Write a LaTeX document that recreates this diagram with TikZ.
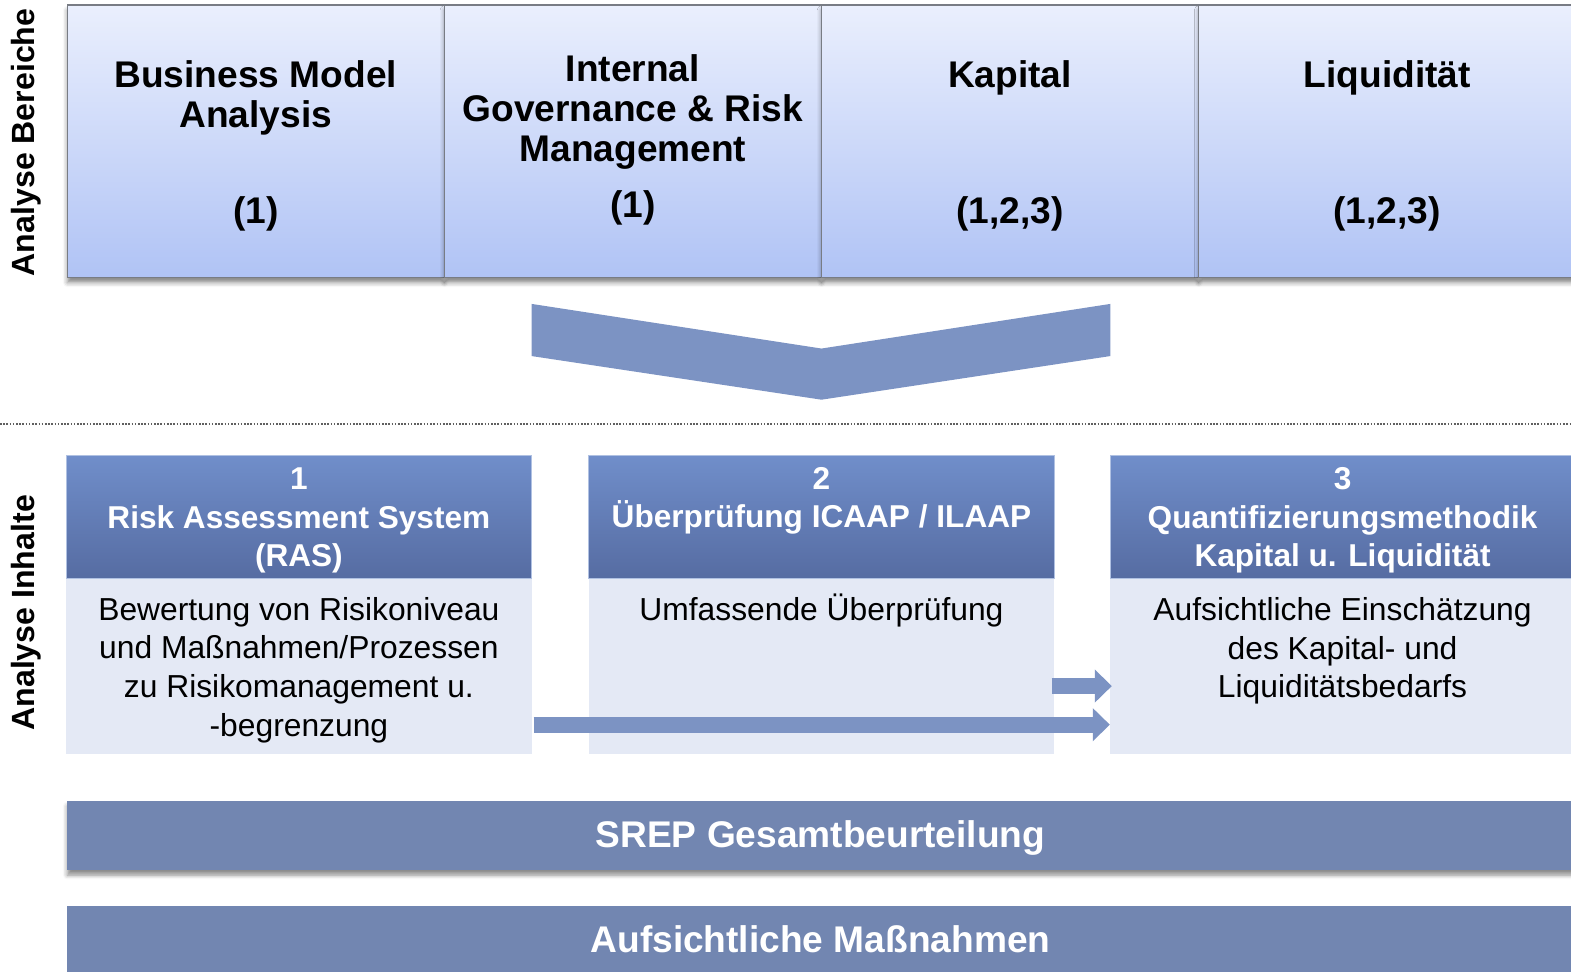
\documentclass[tikz,border=0pt]{standalone}
\usepackage{fontspec}
\setmainfont{Liberation Sans}
\usetikzlibrary{arrows.meta,shadows,shadows.blur}
\definecolor{topA}{RGB}{234,239,253}
\definecolor{topB}{RGB}{176,195,245}
\definecolor{hdA}{RGB}{112,142,202}
\definecolor{hdB}{RGB}{86,108,162}
\definecolor{bodyC}{RGB}{228,233,245}
\definecolor{arrC}{RGB}{124,147,195}
\definecolor{barC}{RGB}{114,134,177}
\definecolor{frameC}{RGB}{120,124,132}
\begin{document}
\begin{tikzpicture}[x=0.5pt,y=-0.5pt,
  areabox/.style={draw=frameC, line width=0.6pt, top color=topA, bottom color=topB,
    minimum width=188pt, minimum height=136pt, inner sep=0pt, outer sep=0pt,
    blur shadow={shadow xshift=0pt, shadow yshift=-2.5pt, shadow opacity=45}},
  areatitle/.style={font=\bfseries\fontsize{18.5}{20}\selectfont, align=center, inner sep=0pt},
  hdbox/.style={top color=hdA, bottom color=hdB, draw=hdA!55!white, line width=0.5pt,
    minimum width=232pt, minimum height=61pt, inner sep=0pt, outer sep=0pt},
  bodybox/.style={fill=bodyC, minimum width=232pt, minimum height=87pt, inner sep=0pt, outer sep=0pt},
  hdtext/.style={text=white, font=\bfseries\fontsize{15.75}{19.25}\selectfont, align=center, inner sep=0pt},
  bodytext/.style={font=\fontsize{15.85}{19.25}\selectfont, align=center, inner sep=0pt},
  sidelabel/.style={font=\bfseries\fontsize{16}{19}\selectfont, rotate=90, anchor=base, inner sep=0pt},
  barbox/.style={fill=barC, minimum width=760pt, inner sep=0pt, outer sep=0pt},
  bartext/.style={text=white, font=\bfseries\fontsize{18.5}{20}\selectfont, anchor=base, inner sep=0pt},
  blockarrow/.style={draw=arrC, line width=8pt, -{Triangle[length=8.5pt,width=16pt]}}
]
\useasboundingbox (0,0) rectangle (1566.3,968.1);
\begin{scope}
\clip (0,0) rectangle (1566.3,968.1);

% side labels
\node[sidelabel] (lblA) at (34,142) {Analyse Bereiche};
\node[sidelabel] (lblB) at (34,611) {Analyse Inhalte};

% top area boxes
\node[areabox] (bm)  at (255,141) {};
\node[areabox] (ig)  at (631,141) {};
\node[areabox] (kap) at (1007,141) {};
\node[areabox, minimum width=192pt] (liq) at (1387,141) {};

\node[areatitle] (bmT)  at (255,97.5) {Business Model\\Analysis};
\node[areatitle, anchor=base] (bmN) at (255,223) {(1)};
\node[areatitle] (igT)  at (631,112) {Internal\\Governance \& Risk\\Management};
\node[areatitle, anchor=base] (igN) at (631,216.5) {(1)};
\node[areatitle, anchor=base] (kapT) at (1007,87) {Kapital};
\node[areatitle, anchor=base] (kapN) at (1007,223) {(1,2,3)};
\node[areatitle, anchor=base] (liqT) at (1383,87) {Liquidität};
\node[areatitle, anchor=base] (liqN) at (1383,223) {(1,2,3)};

% chevron
\fill[arrC] (530,303) -- (819,347.5) -- (1107,303) -- (1107,355) -- (819,398.5) -- (530,355) -- cycle;

% dotted separator
\draw[gray!75!black, line width=0.8pt, dash pattern=on 0.8pt off 0.8pt] (0,422.5) -- (1571,422.5);

% middle boxes
\node[hdbox] (h1) at (298,515.5) {};
\node[bodybox] (b1) at (298,664.5) {};
\node[hdbox] (h2) at (819,515.5) {};
\node[bodybox] (b2) at (819,664.5) {};
\node[hdbox, minimum width=236pt] (h3) at (1343,515.5) {};
\node[bodybox, minimum width=236pt] (b3) at (1343,664.5) {};

\node[hdtext] (h1T) at (298,519) {1\\Risk Assessment System\\(RAS)};
\node[hdtext] (h2T) at (819,499.5) {2\\Überprüfung ICAAP / ILAAP};
\node[hdtext] (h3T) at (1338.5,519) {3\\Quantifizierungsmethodik\\Kapital u. Liquidität};

\node[bodytext] (b1T) at (298,668) {Bewertung von Risikoniveau\\und Maßnahmen/Prozessen\\zu Risikomanagement u.\\-begrenzung};
\node[bodytext, anchor=base] (b2T) at (819,618.5) {Umfassende Überprüfung};
\node[bodytext] (b3T) at (1338.5,649) {Aufsichtliche Einschätzung\\des Kapital- und\\Liquiditätsbedarfs};

% block arrows
\coordinate (a1s) at (1048.5,684);
\coordinate (a1e) at (1108.5,684);
\coordinate (a2s) at (532,722.5);
\coordinate (a2e) at (1106.5,722.5);
\draw[blockarrow] (a1s) -- (a1e);
\draw[blockarrow] (a2s) -- (a2e);

% bottom bars
\node[barbox, minimum height=34.5pt, anchor=north west,
  blur shadow={shadow xshift=0pt, shadow yshift=-2.5pt, shadow opacity=45}] (srep) at (67,798.5) {};
\node[bartext] (srepT) at (818,845) {SREP Gesamtbeurteilung};
\node[barbox, minimum height=40pt, anchor=north west] (mass) at (67,903) {};
\node[bartext] (massT) at (818,950) {Aufsichtliche Maßnahmen};
\end{scope}
\end{tikzpicture}
\end{document}
